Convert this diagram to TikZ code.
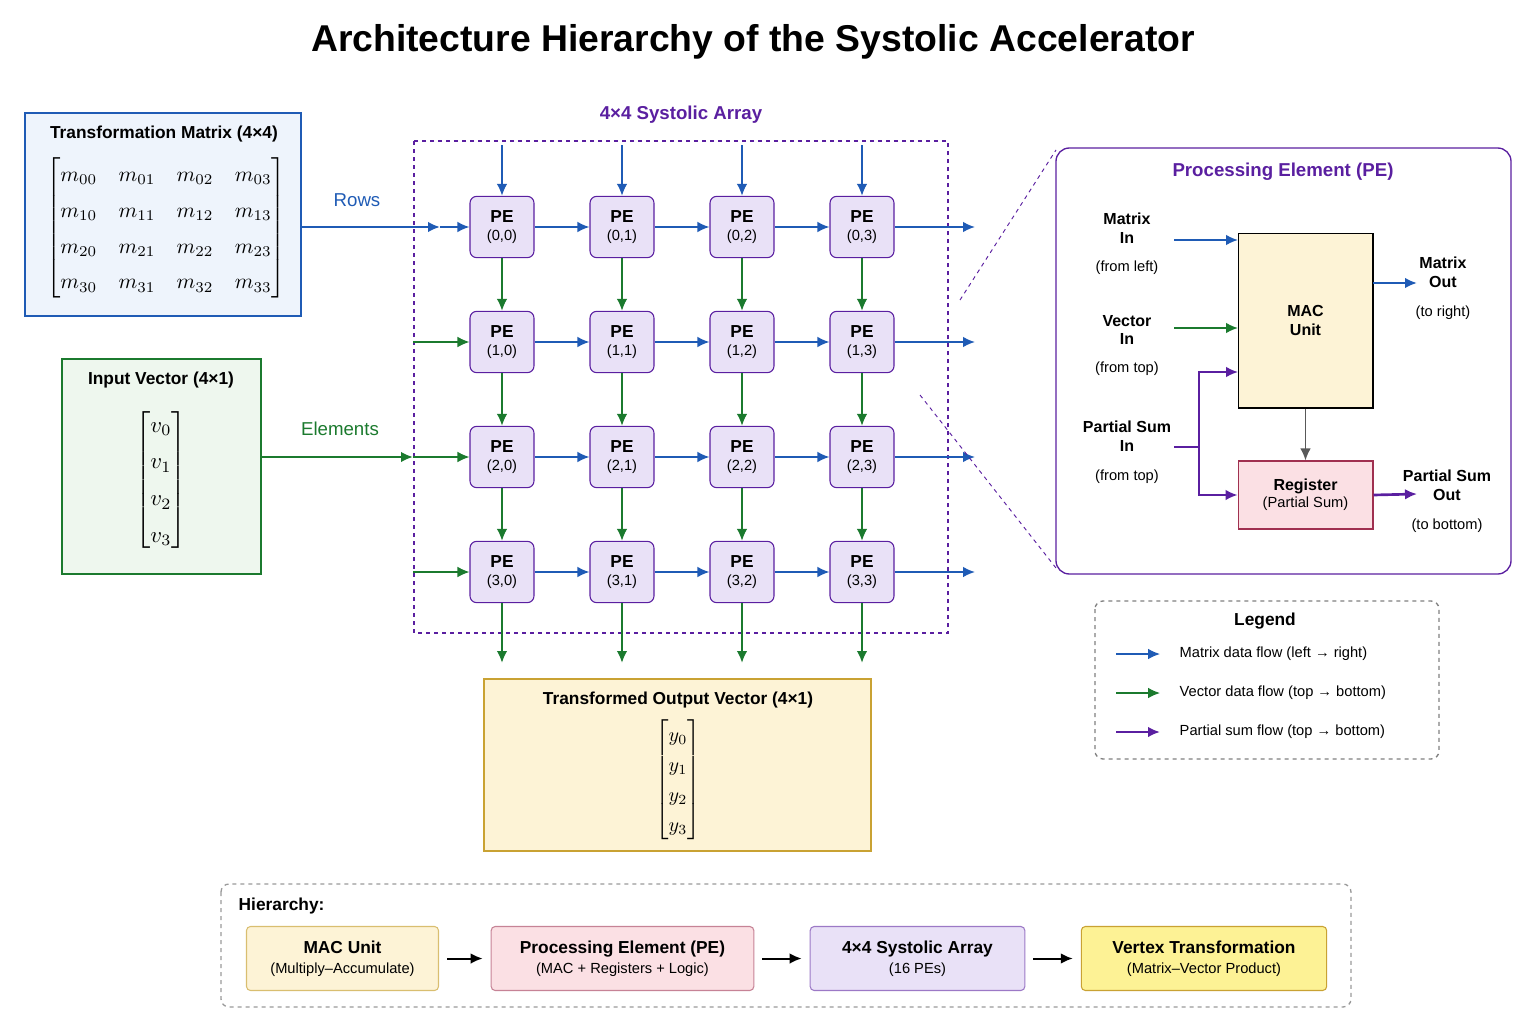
\documentclass[tikz,border=0pt]{standalone}
\usepackage{fontspec}
\setmainfont{Liberation Sans}
\usepackage{amsmath}
\usepackage{graphicx}
\usetikzlibrary{arrows.meta}
\definecolor{mblue}{HTML}{1F5BB5}
\definecolor{mgreen}{HTML}{1B7A2E}
\definecolor{mpurple}{HTML}{5A1FA0}
\definecolor{pefill}{HTML}{E9E1F7}
\definecolor{yfill}{HTML}{FDF3D6}
\definecolor{yborder}{HTML}{C9A233}
\definecolor{pfill}{HTML}{FBE0E4}
\definecolor{pborder}{HTML}{A03050}
\definecolor{bfill}{HTML}{EEF4FC}
\definecolor{gfill}{HTML}{EEF7EE}
\begin{document}
\begin{tikzpicture}[x=0.75pt,y=-0.75pt,
 pe/.style={draw=mpurple,fill=pefill,rounded corners=5pt,minimum width=48pt,minimum height=46pt,align=center,font=\fontsize{11}{13}\selectfont,line width=0.8pt},
 tip/.style={-{Latex[length=9pt,width=8pt]}},
 ba/.style={tip,mblue,line width=1.3pt},
 ga/.style={tip,mgreen,line width=1.3pt},
 pa/.style={tip,mpurple,line width=1.3pt},
 lbl/.style={font=\fontsize{12}{14}\selectfont\bfseries,align=center},
 sm/.style={font=\fontsize{11}{13}\selectfont,align=center},
 hb/.style={rounded corners=3pt,line width=0.8pt,align=center,font=\fontsize{13}{15}\selectfont}]
\useasboundingbox (0,0) rectangle (1536,1024);
\node[font=\fontsize{28}{30}\selectfont\bfseries] (title) at (753,42) {Architecture Hierarchy of the Systolic Accelerator};
% matrix box
\draw[mblue,fill=bfill,line width=1pt] (25,113) rectangle (301,316);
\node[lbl,font=\fontsize{13}{15}\selectfont\bfseries] (mt) at (164,134) {Transformation Matrix (4×4)};
\node (mm) at (166,228) {\scalebox{1.6}{$\renewcommand\arraystretch{1.4}\begin{bmatrix} m_{00}&m_{01}&m_{02}&m_{03}\\ m_{10}&m_{11}&m_{12}&m_{13}\\ m_{20}&m_{21}&m_{22}&m_{23}\\ m_{30}&m_{31}&m_{32}&m_{33}\end{bmatrix}$}};
% input vector
\draw[mgreen,fill=gfill,line width=1pt] (62,359) rectangle (261,574);
\node[font=\fontsize{13}{15}\selectfont\bfseries] (vt) at (161,380) {Input Vector (4×1)};
\node (vv) at (161,480) {\scalebox{1.7}{$\renewcommand\arraystretch{1.35}\begin{bmatrix} v_0\\ v_1\\ v_2\\ v_3\end{bmatrix}$}};
% array
\draw[mpurple,dashed,line width=1pt] (414,141) rectangle (948,633);
\node[font=\fontsize{14}{16}\selectfont\bfseries,text=mpurple] (at) at (681,115) {4×4 Systolic Array};
\foreach \i/\y in {0/227,1/342,2/457,3/572}{
 \foreach \j/\x in {0/502,1/622,2/742,3/862}{
  \node[pe] (p\i\j) at (\x,\y) {\textbf{\fontsize{13}{15}\selectfont PE}\\(\i,\j)};
 }}
\foreach \j/\x in {0/502,1/622,2/742,3/862}{
 \coordinate (t\j) at (\x,145); \draw[ba] (t\j) -- (p0\j.north);
 \coordinate (b\j) at (\x,663); \draw[ga,line width=2pt] (p3\j.south) -- (b\j);
 \draw[ga] (p0\j) -- (p1\j); \draw[ga] (p1\j) -- (p2\j); \draw[ga] (p2\j) -- (p3\j);
}
\foreach \i/\y in {0/227,1/342,2/457,3/572}{
 \draw[ba] (p\i0) -- (p\i1); \draw[ba] (p\i1) -- (p\i2); \draw[ba] (p\i2) -- (p\i3);
 \coordinate (r\i) at (975,\y); \draw[ba] (p\i3) -- (r\i);
}
\foreach \i/\y in {1/342,2/457,3/572}{\coordinate (l\i) at (413,\y); \draw[ga,line width=1pt] (l\i) -- (p\i0.west);}
\coordinate (rowin) at (440,227);
\draw[ba,line width=2pt] (301,227) -- (rowin);
\draw[ba] (rowin) -- (p00.west);
\node[font=\fontsize{14}{16}\selectfont,text=mblue] (rl) at (357,200) {Rows};
\draw[ga,line width=2pt] (261,457) -- (l2);
\node[font=\fontsize{14}{16}\selectfont,text=mgreen] (el) at (340,429) {Elements};
% output
\draw[yborder,fill=yfill,line width=1pt] (484,679) rectangle (871,851);
\node[font=\fontsize{13}{15}\selectfont\bfseries] (ot) at (678,700) {Transformed Output Vector (4×1)};
\node (yy) at (678,780) {\scalebox{1.5}{$\renewcommand\arraystretch{1.25}\begin{bmatrix} y_0\\ y_1\\ y_2\\ y_3\end{bmatrix}$}};
% PE detail
\draw[mpurple,line width=1pt,rounded corners=10pt] (1056,148) rectangle (1511,574);
\draw[mpurple,dashed,line width=0.7pt] (960,300) -- (1056,150);
\draw[mpurple,dashed,line width=0.7pt] (920,395) -- (1056,568);
\node[font=\fontsize{14}{16}\selectfont\bfseries,text=mpurple] (pt) at (1283,172) {Processing Element (PE)};
\node[draw=black,fill=yfill,line width=1pt,minimum width=101pt,minimum height=131pt,lbl] (mac) at (1305.5,320.5) {MAC\\Unit};
\node[draw=pborder,fill=pfill,line width=1pt,minimum width=101pt,minimum height=51pt,sm] (reg) at (1305.5,495) {\textbf{\fontsize{12}{14}\selectfont Register}\\(Partial Sum)};
\draw[tip,gray!70!black,line width=1pt] (mac.south) -- (reg.north);
\node[lbl] (mi) at (1127,228) {Matrix\\In}; \node[sm] (mif) at (1127,268) {(from left)};
\node[lbl] (vi) at (1127,330) {Vector\\In}; \node[sm] (vif) at (1127,369) {(from top)};
\node[lbl] (psi) at (1127,436) {Partial Sum\\In}; \node[sm] (psif) at (1127,477) {(from top)};
\coordinate (a1) at (1174,240); \draw[ba] (a1) -- (1238,240);
\coordinate (a2) at (1174,328); \draw[ga] (a2) -- (1238,328);
\coordinate (a3) at (1174,447);
\draw[mpurple,line width=1.3pt] (a3) -- (1199,447);
\draw[pa] (1199,447) |- (1238,372);
\draw[pa] (1199,447) |- (reg.west);
\coordinate (mo) at (1417,283); \draw[ba,line width=2pt] (1373,283) -- (mo);
\node[lbl] (mol) at (1443,272) {Matrix\\Out}; \node[sm] (mof) at (1443,313) {(to right)};
\coordinate (po) at (1417,494); \draw[pa,line width=2pt] (reg.east) -- (po);
\node[lbl] (pol) at (1447,485) {Partial Sum\\Out}; \node[sm] (pof) at (1447,526) {(to bottom)};
% legend
\draw[gray,dashed,line width=1pt,rounded corners=6pt] (1095,601) rectangle (1439,759);
\node[font=\fontsize{13}{15}\selectfont\bfseries] (lg) at (1265,621) {Legend};
\coordinate (la1) at (1116,654); \coordinate (la2) at (1160,654); \draw[ba,line width=1pt] (la1) -- (la2);
\coordinate (lb1) at (1116,693); \coordinate (lb2) at (1160,693); \draw[ga,line width=1pt] (lb1) -- (lb2);
\coordinate (lc1) at (1116,732); \coordinate (lc2) at (1160,732); \draw[pa,line width=2pt] (lc1) -- (lc2);
\node[sm,anchor=west] (lt1) at (1175,654) {Matrix data flow (left → right)};
\node[sm,anchor=west] (lt2) at (1175,693) {Vector data flow (top → bottom)};
\node[sm,anchor=west] (lt3) at (1175,732) {Partial sum flow (top → bottom)};
% hierarchy
\draw[gray!80,dashed,line width=1pt,rounded corners=6pt] (221,884) rectangle (1351,1007);
\node[font=\fontsize{13}{15}\selectfont\bfseries,anchor=west] (hl) at (234,906) {Hierarchy:};
\node[hb,draw=yborder!70,fill=yfill,minimum width=144pt,minimum height=48pt] (h1) at (342.5,958.5) {\textbf{MAC Unit}\\\fontsize{11}{13}\selectfont(Multiply–Accumulate)};
\node[hb,draw=pborder!60,fill=pfill,minimum width=197pt,minimum height=48pt] (h2) at (622.5,958.5) {\textbf{Processing Element (PE)}\\\fontsize{11}{13}\selectfont(MAC + Registers + Logic)};
\node[hb,draw=mpurple!60,fill=pefill,minimum width=161pt,minimum height=48pt] (h3) at (917.5,958.5) {\textbf{4×4 Systolic Array}\\\fontsize{11}{13}\selectfont(16 PEs)};
\node[hb,draw=yborder,fill=yellow!30!yfill,minimum width=184pt,minimum height=48pt] (h4) at (1204,958.5) {\textbf{Vertex Transformation}\\\fontsize{11}{13}\selectfont(Matrix–Vector Product)};
\foreach \a/\b in {h1/h2,h2/h3,h3/h4}{\draw[tip,line width=1.5pt] ([xshift=6pt]\a.east) -- ([xshift=-6pt]\b.west);}
\end{tikzpicture}
\end{document}
